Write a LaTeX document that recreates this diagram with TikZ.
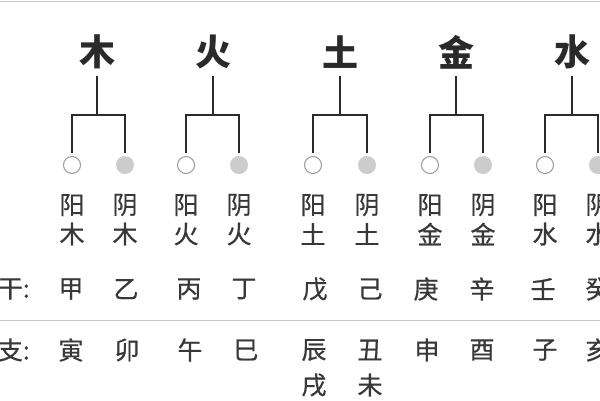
\documentclass[tikz,border=0pt]{standalone}
\usepackage{fontspec}
\newfontfamily\cjk{Noto Sans CJK SC}
\newfontfamily\cjkl[FakeBold=0.6]{Noto Sans CJK SC}
\usetikzlibrary{calc}
\definecolor{ink}{HTML}{2A2A2A}
\definecolor{txt}{HTML}{383838}
\definecolor{rule}{HTML}{C8C8C8}
\definecolor{yin}{HTML}{CCCCCC}
\definecolor{yang}{HTML}{999999}
\tikzset{
  elem/.style={font=\cjk\bfseries\fontsize{36}{36}\selectfont, text=ink, inner sep=0pt},
  lbl/.style={font=\cjkl\fontsize{25}{25}\selectfont, text=txt, inner sep=0pt},
  tree/.style={draw=ink, line width=1.5pt},
  yangc/.style={circle, draw=yang, line width=1pt, fill=white, minimum size=17pt, inner sep=0pt},
  yinc/.style={circle, fill=yin, minimum size=18pt, inner sep=0pt},
  sep/.style={draw=rule, line width=1pt}
}
\begin{document}
\begin{tikzpicture}[x=1pt,y=-1pt]
\useasboundingbox (0,0) rectangle (600,400);
\clip (0,0) rectangle (600,400);
\fill[white] (0,0) rectangle (600,400);
% top rule
\coordinate (tl) at (0,1);
\coordinate (tr) at (600,1);
\draw[sep] (tl) -- (tr);
% elements
\foreach \n/\c/\x/\a/\b in {mu/木/97/72/125, huo/火/213/186/239, tu/土/340/313/367, jin/金/456/430/483, shui/水/572/545/598}{
  \node[elem] (\n) at (\x,52) {\c};
  \coordinate (\n-s) at (\x,76);
  \coordinate (\n-j) at (\x,115);
  \node[yangc] (\n-a) at (\a,165) {};
  \node[yinc] (\n-b) at (\b,165) {};
  \draw[tree] (\n-s) -- (\n-j);
  \draw[tree, shorten <=3pt, shorten >=3pt] (\n-a.north) |- (\n-j) -| (\n-b.north);
  \node[lbl] (\n-a1) at (\a,205) {阳};
  \node[lbl] (\n-a2) at (\a,234) {\c};
  \node[lbl] (\n-b1) at (\b,205) {阴};
  \node[lbl] (\n-b2) at (\b,234) {\c};
}
% heavenly stems
\node[lbl, anchor=east] (tg) at (30,289) {天干:};
\foreach \n/\c/\x in {g1/甲/71, g2/乙/126, g3/丙/189, g4/丁/244, g5/戊/315, g6/己/370, g7/庚/426, g8/辛/482, g9/壬/543, g10/癸/598}{
  \node[lbl] (\n) at (\x,289) {\c};
}
% separator
\coordinate (sl) at (0,320);
\coordinate (sr) at (600,320);
\draw[sep] (sl) -- (sr);
% earthly branches
\node[lbl, anchor=east] (dz) at (30,350) {地支:};
\foreach \n/\c/\x in {z1/寅/71, z2/卯/127, z3/午/190, z4/巳/246, z5/辰/314, z6/丑/370, z7/申/427, z8/酉/482, z9/子/545, z10/亥/598}{
  \node[lbl] (\n) at (\x,350) {\c};
}
\node[lbl] (z11) at (314,385) {戌};
\node[lbl] (z12) at (370,385) {未};
\end{tikzpicture}
\end{document}
